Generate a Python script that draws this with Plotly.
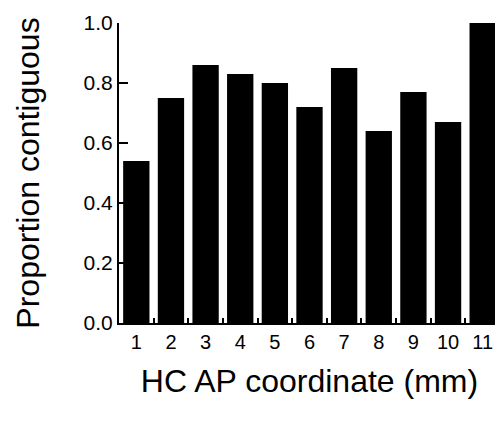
import plotly.graph_objects as go

categories = ["1", "2", "3", "4", "5", "6", "7", "8", "9", "10", "11"]
proportions = [0.54, 0.75, 0.86, 0.83, 0.80, 0.72, 0.85, 0.64, 0.77, 0.67, 1.00]
y_ticks = [0.0, 0.2, 0.4, 0.6, 0.8, 1.0]

FONT = "Liberation Sans, Arial, Helvetica, sans-serif"

fig = go.Figure(go.Bar(
    x=categories, y=proportions,
    marker=dict(color="black", line=dict(width=0)),
    width=0.76,
))

# page body has an 8px default margin; size/margins compensate for it
fig.update_layout(
    width=495, height=415,
    margin=dict(l=111, r=3, t=13, b=100),
    paper_bgcolor="white", plot_bgcolor="white",
    font=dict(family=FONT, color="black", size=21),
    showlegend=False,
)
fig.update_xaxes(
    type="category", tickson="boundaries",
    ticks="inside", ticklen=5, tickwidth=2, tickcolor="black",
    showline=True, linecolor="black", linewidth=2,
    showgrid=False, zeroline=False,
    tickfont=dict(size=20),
    title=dict(text="HC AP coordinate (mm)", font=dict(size=32), standoff=18),
)
fig.update_yaxes(
    range=[0, 1.0], tickvals=y_ticks, tickformat=".1f",
    ticks="inside", ticklen=9, tickwidth=2, tickcolor="black",
    showline=True, linecolor="black", linewidth=2,
    showgrid=False, zeroline=False,
    tickfont=dict(size=21),
    title=dict(text="Proportion contiguous", font=dict(size=32), standoff=34),
)

fig.write_html("out.html")
